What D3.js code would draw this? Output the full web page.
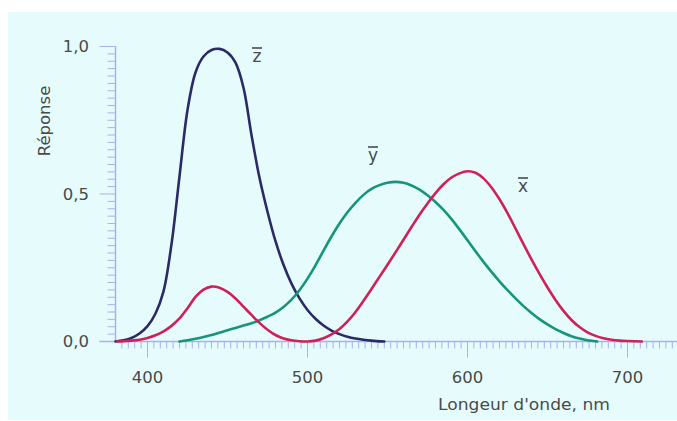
<!DOCTYPE html>
<html><head><meta charset="utf-8">
<script src="https://cdn.jsdelivr.net/npm/d3@7"></script>
<style>html,body{margin:0;padding:0;background:#fff;}svg{display:block;}</style>
</head><body>
<script>
// wavelengths (nm) and responses
const zWl  = [380,385,390,395,400,405,410,415,420,425,430,435,440,445,450,455,460,465,470,475,480,485,490,495,500,505,510,515,520,525,530,535,540,548];
const zVal = [0,0.004,0.012,0.027,0.052,0.095,0.17,0.33,0.56,0.785,0.912,0.966,0.988,0.992,0.98,0.945,0.86,0.70,0.555,0.44,0.34,0.26,0.196,0.146,0.107,0.077,0.054,0.037,0.025,0.016,0.01,0.006,0.003,0];

const xWl  = [381,385,390,395,400,405,410,415,420,425,430,435,440,445,450,455,460,465,470,475,480,485,490,495,500,505,510,515,520,525,530,535,540,545,550,555,560,565,570,575,580,585,590,595,600,605,610,615,620,625,630,635,640,645,650,655,660,665,670,675,680,685,690,695,700,709];
const xVal = [0,0.001,0.003,0.006,0.012,0.021,0.034,0.053,0.078,0.113,0.151,0.176,0.186,0.182,0.168,0.146,0.118,0.09,0.063,0.04,0.022,0.01,0.004,0.001,0,0.003,0.011,0.024,0.042,0.068,0.1,0.138,0.178,0.219,0.26,0.302,0.345,0.388,0.43,0.468,0.503,0.533,0.556,0.57,0.577,0.572,0.553,0.522,0.482,0.435,0.383,0.33,0.278,0.229,0.183,0.141,0.104,0.073,0.049,0.031,0.019,0.011,0.006,0.003,0.0015,0];

const yWl  = [420,425,430,435,440,445,450,455,460,465,470,475,480,485,490,495,500,505,510,515,520,525,530,535,540,545,550,555,560,565,570,575,580,585,590,595,600,605,610,615,620,625,630,635,640,645,650,655,660,665,670,675,681];
const yVal = [0,0.004,0.009,0.015,0.022,0.03,0.038,0.046,0.054,0.062,0.072,0.084,0.098,0.117,0.142,0.174,0.213,0.258,0.308,0.356,0.40,0.438,0.47,0.497,0.517,0.53,0.538,0.541,0.538,0.529,0.515,0.496,0.473,0.446,0.415,0.38,0.343,0.306,0.27,0.236,0.204,0.174,0.146,0.12,0.097,0.076,0.058,0.042,0.029,0.018,0.01,0.004,0];

const xTickValues = [400,500,600,700];
const xTickLabels = ["400","500","600","700"];
const yTickValues = [0,0.5,1.0];
const yTickLabels = ["0,0","0,5","1,0"];
const curveNames = ["z","y","x"];
const xTitle = "Longeur d'onde, nm";
const yTitle = "Réponse";

const W = 677, H = 421;
const svg = d3.select("body").append("svg").attr("width", W).attr("height", H);
svg.append("rect").attr("x",8).attr("y",12).attr("width",W-8).attr("height",408).attr("fill","#e6fcfc");

const x = d3.scaleLinear().domain([380, 730]).range([115.5, 675.5]);
const y = d3.scaleLinear().domain([0, 1]).range([341.5, 46.5]);

const axisCol = "#a9b0ee";
const textCol = "#4a4a4a";
const font = "'DejaVu Sans', Verdana, sans-serif";

// y axis
const gy = svg.append("g");
gy.append("line").attr("x1",x(380)).attr("x2",x(380)).attr("y1",y(1)-0.5).attr("y2",y(0))
  .attr("stroke",axisCol).attr("stroke-width",1.5);
const yMinor = d3.range(0, 1.0001, 0.025);
gy.selectAll("line.ym").data(yMinor).join("line").attr("class","ym")
  .attr("x1", d => x(380) - (yTickValues.some(v=>Math.abs(v-d)<1e-6) ? 16 : 8))
  .attr("x2", x(380)).attr("y1", d=>y(d)).attr("y2", d=>y(d))
  .attr("stroke",axisCol).attr("stroke-width",1);
gy.selectAll("text").data(yTickValues).join("text")
  .attr("x", 89).attr("y", d=>y(d)).attr("dy","0.36em").attr("text-anchor","end")
  .attr("font-family",font).attr("font-size",16.5).attr("fill",textCol)
  .text((d,i)=>yTickLabels[i]);

// x axis
const gx = svg.append("g");
gx.append("line").attr("x1",x(380)-16).attr("x2",W).attr("y1",y(0)).attr("y2",y(0))
  .attr("stroke",axisCol).attr("stroke-width",1.5);
const xMinor = d3.range(384, 730, 4);
gx.selectAll("line.xm").data(xMinor).join("line").attr("class","xm")
  .attr("x1", d=>x(d)).attr("x2", d=>x(d)).attr("y1", y(0))
  .attr("y2", d => y(0) + (xTickValues.includes(d) ? 16 : 7))
  .attr("stroke",axisCol).attr("stroke-width",1);
gx.selectAll("text").data(xTickValues).join("text")
  .attr("x", d=>x(d)).attr("y", 383).attr("text-anchor","middle")
  .attr("font-family",font).attr("font-size",16.5).attr("fill",textCol)
  .text((d,i)=>xTickLabels[i]);

// titles
svg.append("text").attr("x",438).attr("y",410).attr("font-family",font).attr("font-size",16.5)
  .attr("fill",textCol).attr("textLength",172).attr("lengthAdjust","spacingAndGlyphs").text(xTitle);
svg.append("text").attr("transform","translate(50,121) rotate(-90)").attr("text-anchor","middle")
  .attr("font-family",font).attr("font-size",16.5).attr("fill",textCol).text(yTitle);

// curves
const line = d3.line().x(d=>x(d[0])).y(d=>y(d[1])).curve(d3.curveCatmullRom.alpha(0.5));
const series = [
  {wl: zWl, v: zVal, c: "#2b2a66"},
  {wl: yWl, v: yVal, c: "#17957a"},
  {wl: xWl, v: xVal, c: "#cf2157"}
];
svg.selectAll("path.curve").data(series).join("path").attr("class","curve")
  .attr("d", s => line(s.wl.map((w,i)=>[w, s.v[i]])))
  .attr("fill","none").attr("stroke", s=>s.c).attr("stroke-width",2.6)
  .attr("stroke-linejoin","round").attr("stroke-linecap","round");

// curve labels (letter with bar)
const labelPix = [[257,62],[373,161],[523,192]];
curveNames.forEach((n,i)=>{
  const [lx, ly] = labelPix[i];
  svg.append("text").attr("x",lx).attr("y",ly).attr("text-anchor","middle")
    .attr("font-family",font).attr("font-size",17).attr("fill",textCol).text(n);
  svg.append("line").attr("x1",lx-5).attr("x2",lx+5).attr("y1",ly-14).attr("y2",ly-14)
    .attr("stroke",textCol).attr("stroke-width",1.6);
});
</script>
</body></html>
